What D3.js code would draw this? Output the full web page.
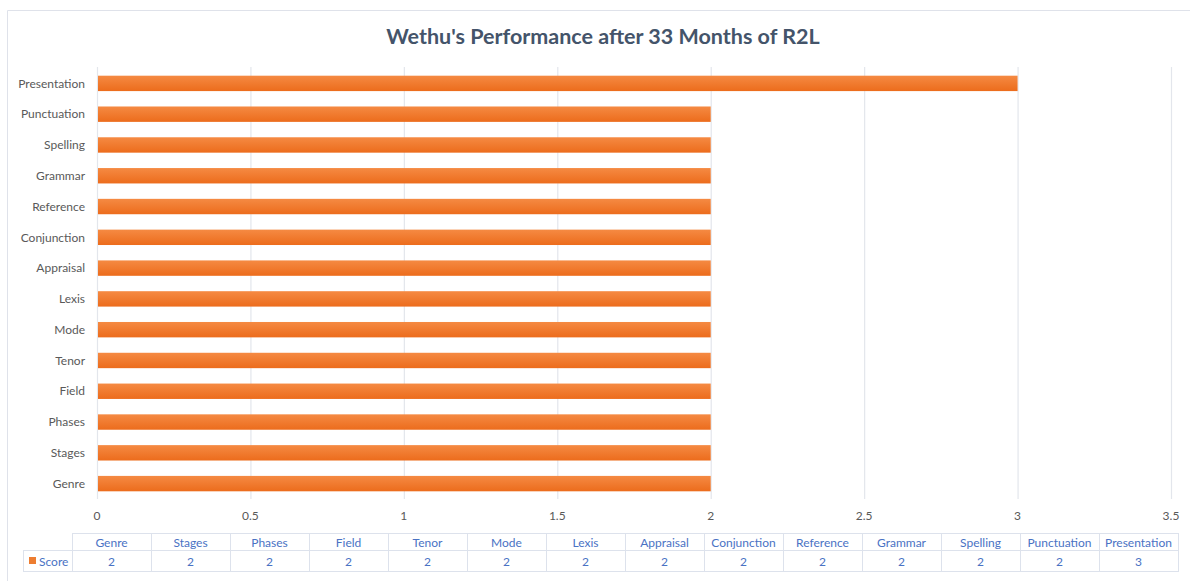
<!DOCTYPE html>
<html>
<head>
<meta charset="utf-8">
<script src="https://cdn.jsdelivr.net/npm/d3@7"></script>
<style>
  body { margin: 0; background: #fff; }
  svg { display: block; }
</style>
</head>
<body>
<div id="graph"></div>
<script>
var width = 1190, height = 581;

var title = "Wethu's Performance after 33 Months of R2L";
var categories = ["Genre", "Stages", "Phases", "Field", "Tenor", "Mode", "Lexis",
  "Appraisal", "Conjunction", "Reference", "Grammar", "Spelling", "Punctuation", "Presentation"];
var scores = [2, 2, 2, 2, 2, 2, 2, 2, 2, 2, 2, 2, 2, 3];
var seriesName = "Score";
var ticks = [0, 0.5, 1, 1.5, 2, 2.5, 3, 3.5];

var data = categories.map((c, i) => ({ name: c, value: scores[i] }));

var font = "Lato, 'Open Sans', sans-serif";
var gray = "#595959";
var blue = "#4a72c4";
var gridColor = "#e3e6ec";

var x = d3.scaleLinear().domain([0, 3.5]).range([97, 1171]);
var y = d3.scaleBand()
    .domain(categories.slice().reverse())
    .range([68, 499])
    .paddingInner(0.5)
    .paddingOuter(0.25);

var col = d3.scaleBand().domain(categories).range([72, 1178]);

const svg = d3.select("#graph").append("svg")
    .attr("width", width)
    .attr("height", height)
    .attr("font-family", font);

var defs = svg.append("defs");
var grad = defs.append("linearGradient")
    .attr("id", "barGrad")
    .attr("x1", 0).attr("y1", 0).attr("x2", 0).attr("y2", 1);
grad.append("stop").attr("offset", "0%").attr("stop-color", "#f58a43");
grad.append("stop").attr("offset", "100%").attr("stop-color", "#ec6c1c");

// chart frame
svg.append("path")
    .attr("d", "M7.5,581 V10.5 H1190")
    .attr("fill", "none")
    .attr("stroke", "#dfe2ea");

svg.append("text")
    .attr("x", 603)
    .attr("y", 44)
    .attr("text-anchor", "middle")
    .attr("font-size", 21.5)
    .attr("font-weight", "bold")
    .attr("fill", "#44546a")
    .text(title);

// gridlines
svg.append("g")
    .selectAll("line")
    .data(ticks)
    .join("line")
      .attr("x1", d => x(d) + 0.5)
      .attr("x2", d => x(d) + 0.5)
      .attr("y1", 67)
      .attr("y2", 499)
      .attr("stroke", gridColor)
      .attr("stroke-width", 1.2);

// bars
svg.append("g")
    .selectAll("rect")
    .data(data)
    .join("rect")
      .attr("x", x(0) + 1)
      .attr("y", d => y(d.name))
      .attr("width", d => x(d.value) - x(0) - 1)
      .attr("height", y.bandwidth())
      .attr("fill", "url(#barGrad)");

// category labels
svg.append("g")
    .attr("font-size", 12)
    .attr("fill", gray)
    .attr("text-anchor", "end")
    .selectAll("text")
    .data(categories)
    .join("text")
      .attr("x", 85)
      .attr("y", d => y(d) + y.bandwidth() / 2)
      .attr("dy", "0.35em")
      .text(d => d);

// x tick labels
svg.append("g")
    .attr("font-size", 12)
    .attr("fill", gray)
    .attr("text-anchor", "middle")
    .selectAll("text")
    .data(ticks)
    .join("text")
      .attr("x", d => x(d))
      .attr("y", 516)
      .attr("dy", "0.35em")
      .text(d => d);

// data table
var rowTop = 533, rowMid = 550, rowBot = 571;
var tbl = svg.append("g");
var lineColor = "#dde2ec";

tbl.append("path")
    .attr("d", `M72,${rowTop + 0.5} H1179 M23,${rowMid + 0.5} H1179 M23,${rowBot + 0.5} H1179 M23.5,${rowMid} V${rowBot}`)
    .attr("stroke", lineColor)
    .attr("fill", "none");

tbl.selectAll("line.v")
    .data(categories.concat(["end"]))
    .join("line")
      .attr("class", "v")
      .attr("x1", (d, i) => (i < categories.length ? col(d) : 1178) + 0.5)
      .attr("x2", (d, i) => (i < categories.length ? col(d) : 1178) + 0.5)
      .attr("y1", rowTop)
      .attr("y2", rowBot)
      .attr("stroke", lineColor);

tbl.selectAll("text.h")
    .data(categories)
    .join("text")
      .attr("class", "h")
      .attr("x", d => col(d) + col.bandwidth() / 2)
      .attr("y", (rowTop + rowMid) / 2 + 1)
      .attr("dy", "0.35em")
      .attr("text-anchor", "middle")
      .attr("font-size", 12)
      .attr("fill", blue)
      .text(d => d);

tbl.selectAll("text.v")
    .data(data)
    .join("text")
      .attr("class", "v")
      .attr("x", d => col(d.name) + col.bandwidth() / 2)
      .attr("y", (rowMid + rowBot) / 2 + 1)
      .attr("dy", "0.35em")
      .attr("text-anchor", "middle")
      .attr("font-size", 12)
      .attr("fill", blue)
      .text(d => d.value);

tbl.append("rect")
    .attr("x", 29)
    .attr("y", 557)
    .attr("width", 7)
    .attr("height", 7)
    .attr("fill", "#ed7d31");

tbl.append("text")
    .attr("x", 39)
    .attr("y", (rowMid + rowBot) / 2 + 1)
    .attr("dy", "0.35em")
    .attr("font-size", 12)
    .attr("fill", blue)
    .text(seriesName);
</script>
</body>
</html>
